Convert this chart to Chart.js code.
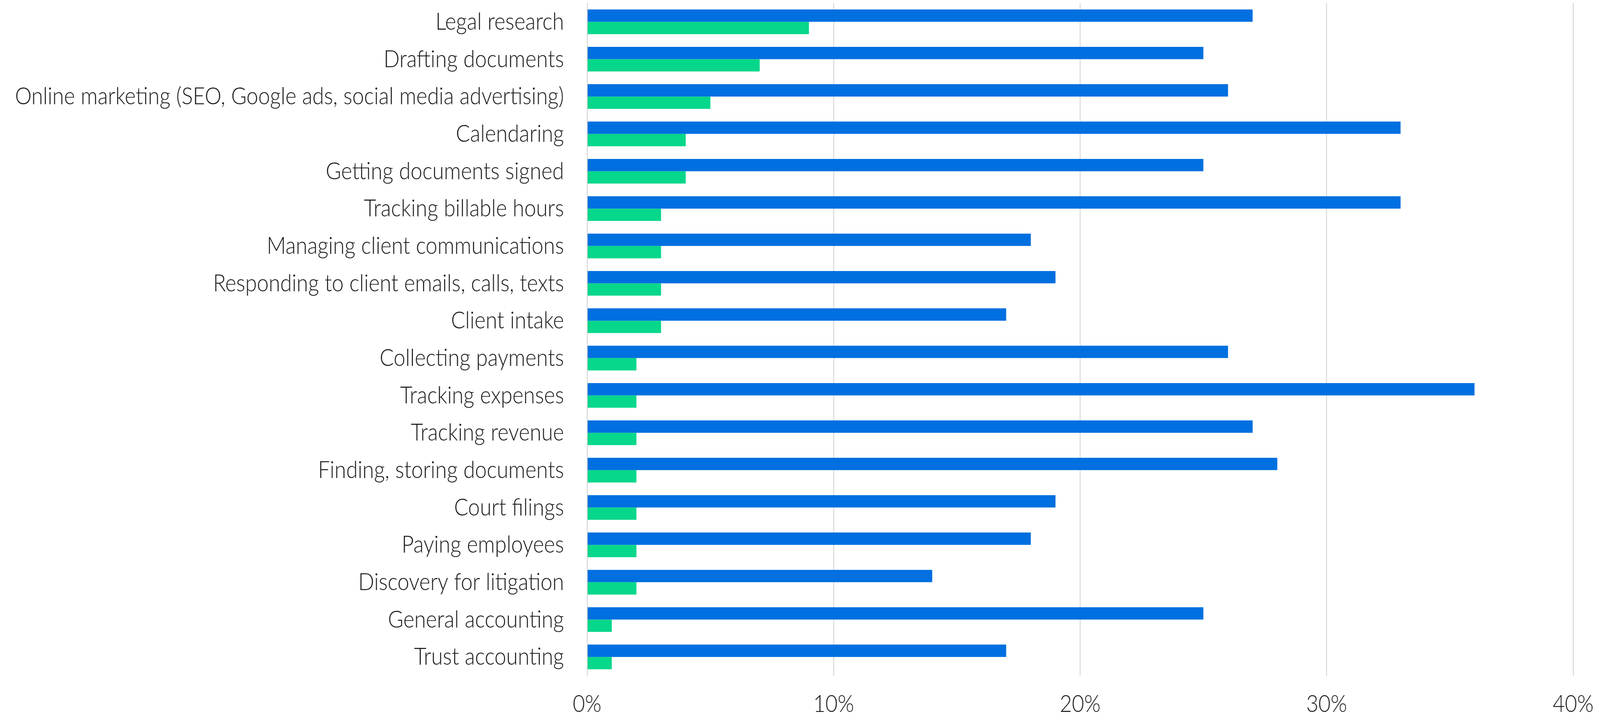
<!DOCTYPE html>
<html>
<head>
<meta charset="utf-8">
<script src="https://cdn.jsdelivr.net/npm/chart.js@4"></script>
<style>
  html, body { margin: 0; padding: 0; background: #fff; overflow: hidden; }
  #chart { display: block; transform-origin: 0 0; }
</style>
</head>
<body>
<canvas id="chart" width="4701" height="1836"></canvas>
<script>
// ── DATA ─────────────────────────────────────────────────────────────────────
const tasks = [
  'Legal research',
  'Drafting documents',
  'Online marketing (SEO, Google ads, social media advertising)',
  'Calendaring',
  'Getting documents signed',
  'Tracking billable hours',
  'Managing client communications',
  'Responding to client emails, calls, texts',
  'Client intake',
  'Collecting payments',
  'Tracking expenses',
  'Tracking revenue',
  'Finding, storing documents',
  'Court filings',
  'Paying employees',
  'Discovery for litigation',
  'General accounting',
  'Trust accounting',
];

// blue series (top bar of each pair)
const blueValues  = [27, 25, 26, 33, 25, 33, 18, 19, 17, 26, 36, 27, 28, 19, 18, 14, 25, 17];
// green series (bottom bar of each pair)
const greenValues = [9, 7, 5, 4, 4, 3, 3, 3, 3, 2, 2, 2, 2, 2, 2, 2, 1, 1];

const xTicks = [0, 10, 20, 30, 40];

// ── STYLE ────────────────────────────────────────────────────────────────────
const BLUE  = '#006fdf';
const GREEN = '#06d78a';
const GRID  = '#d9d9d9';
const TEXT  = '#1a1a1a';
const FONT  = { family: 'Lato, "Open Sans", sans-serif', size: 62, weight: 300 };

// layout is drawn on the reference's 4701 x 1836 grid, then fitted to the window
const canvas = document.getElementById('chart');
canvas.style.width = '4701px';
canvas.style.height = '1836px';
canvas.style.transform = `scale(${window.innerWidth / 4701}, ${window.innerHeight / 1836})`;

// ── CHART ────────────────────────────────────────────────────────────────────
new Chart(canvas, {
  type: 'bar',
  data: {
    labels: tasks,
    datasets: [
      { data: blueValues,  backgroundColor: BLUE,  borderWidth: 0 },
      { data: greenValues, backgroundColor: GREEN, borderWidth: 0 },
    ],
  },
  options: {
    indexAxis: 'y',
    responsive: false,
    animation: false,
    devicePixelRatio: 1,
    layout: { padding: { top: 8, right: 79, left: 0, bottom: 0 } },
    datasets: { bar: { categoryPercentage: 0.66, barPercentage: 1.0 } },
    plugins: { legend: { display: false }, tooltip: { enabled: false } },
    scales: {
      x: {
        min: 0, max: 40,
        afterBuildTicks: s => { s.ticks = xTicks.map(v => ({ value: v })); },
        afterFit: s => { s.height = 106; s.paddingLeft = 0; s.paddingRight = 0; },
        grid: { color: GRID, lineWidth: 3, drawTicks: false },
        border: { display: false },
        ticks: { padding: 36, color: TEXT, font: FONT, callback: v => v + '%' },
      },
      y: {
        afterFit: s => { s.width = 1725; s.paddingTop = 0; s.paddingBottom = 0; },
        grid: { display: false, drawTicks: false },
        border: { display: false },
        ticks: { padding: 68, color: TEXT, font: FONT, autoSkip: false },
      },
    },
  },
});
</script>
</body>
</html>
